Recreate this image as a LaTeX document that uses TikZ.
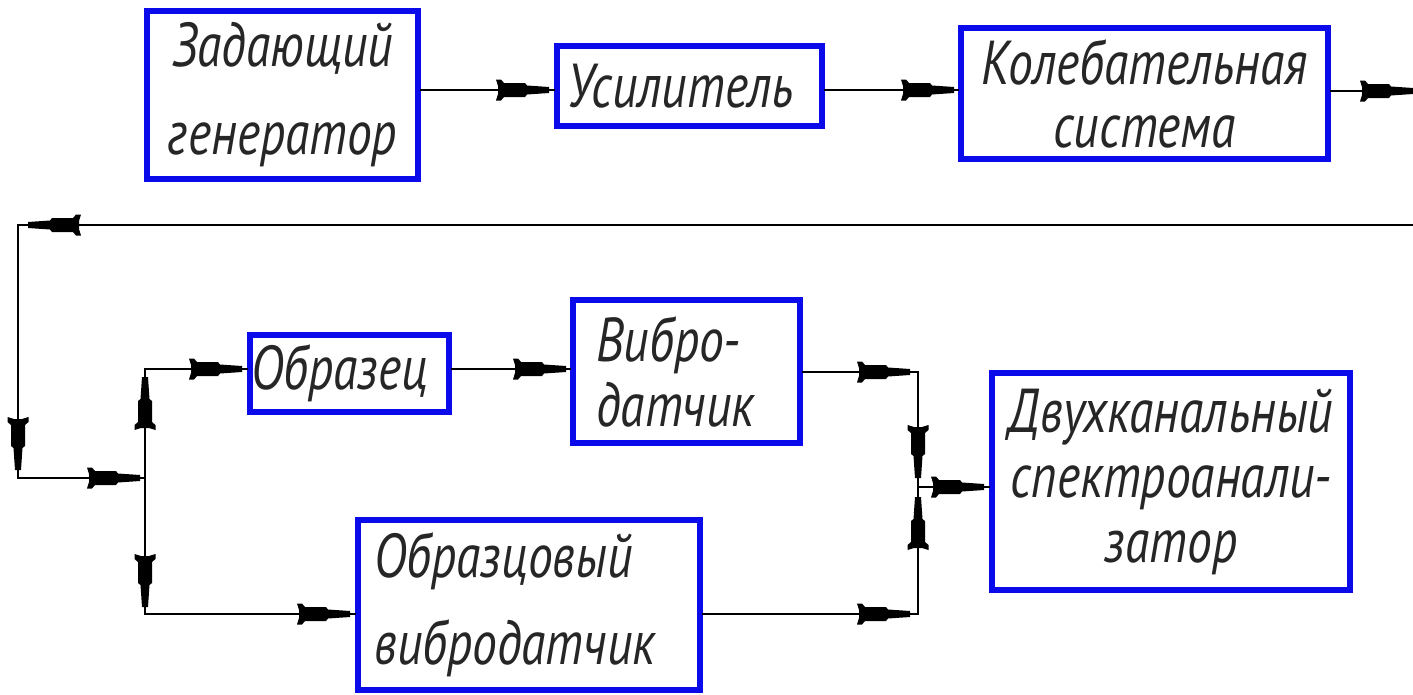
\documentclass[tikz,border=0pt]{standalone}
\usepackage{fontspec}
\newfontfamily\gost{PT Sans}[FakeStretch=0.8]
\usetikzlibrary{decorations.markings}
\definecolor{boxblue}{RGB}{10,10,235}
\tikzset{
 block/.style={draw=boxblue, line width=6pt, fill=white, inner sep=0pt, font=\gost\itshape\fontsize{62}{88}\selectfont, align=center, text=black!85},
 conn/.style={line width=2pt, black, line cap=rect},
 arr/.style={postaction={decorate}, decoration={markings, mark=at position #1 with {\fill[black] (0,-3) -- (0,3) -- (-22,4.5) -- (-24,7) -- (-45,7) -- (-48,10.5) -- (-53,10.5) -- (-51,4) -- (-51,-4) -- (-53,-10.5) -- (-48,-10.5) -- (-45,-7) -- (-24,-7) -- (-22,-4.5) -- cycle;}}},
}
\begin{document}
\begin{tikzpicture}[x=1pt,y=-1pt]
\useasboundingbox (0,0) rectangle (1413,694);
\clip (0,0) rectangle (1413,694);
\fill[white] (0,0) rectangle (1413,694);
\node[block, minimum width=271pt, minimum height=168pt] (gen) at (282.5,95) {Задающий\\генератор};
\node[block, minimum width=265pt, minimum height=80pt] (usil) at (689.5,86) {Усилитель\hspace*{18pt}};
\node[block, minimum width=367pt, minimum height=131pt, font=\gost\itshape\fontsize{62}{63}\selectfont] (kol) at (1144.5,93.5) {Колебательная\\система};
\node[block, minimum width=199pt, minimum height=77pt] (obr) at (349.5,373.5) {Образец\hspace*{20pt}};
\node[block, minimum width=227pt, minimum height=143pt, font=\gost\itshape\fontsize{62}{65}\selectfont, align=left] (vd) at (686.5,371.5) {Вибро-\hspace*{22pt}\\датчик\hspace*{22pt}};
\node[block, minimum width=342pt, minimum height=170pt, font=\gost\itshape\fontsize{62}{87}\selectfont, align=left] (ovd) at (529,605) {Образцовый\\вибродатчик\hspace*{28pt}};
\node[block, minimum width=358pt, minimum height=217pt, font=\gost\itshape\fontsize{62}{65}\selectfont] (spa) at (1171,481.5) {Двухканальный\\спектроанали-\\затор};
\coordinate (ya) at (0,90);
\coordinate (c1) at (1420,91);
\coordinate (c2) at (1420,225);
\coordinate (c3) at (18,225);
\coordinate (c4) at (18,478);
\coordinate (j1) at (145,478);
\coordinate (c5) at (145,369);
\coordinate (c6) at (145,614);
\coordinate (c7) at (918,372);
\coordinate (j2) at (918,487);
\coordinate (c8) at (918,614);
\draw[conn, arr=-5pt] (gen.east |- ya) -- (usil.west |- ya);
\draw[conn, arr=-4pt] (usil.east |- ya) -- (kol.west |- ya);
\draw[conn, arr=-7pt] (kol.east |- c1) -- (c1);
\draw[conn] (c1) -- (c2);
\draw[conn, arr=-10pt] (c2) -- (c3);
\draw[conn, arr=-8pt] (c3) -- (c4);
\draw[conn, arr=-5pt] (c4) -- (j1);
\draw[conn, arr=-8pt] (j1) -- (c5);
\draw[conn, arr=-5pt] (c5) -- (obr.west |- c5);
\draw[conn, arr=-7pt] (j1) -- (c6);
\draw[conn, arr=-5pt] (c6) -- (ovd.west |- c6);
\draw[conn, arr=-4pt] (obr.east |- c5) -- (vd.west |- c5);
\draw[conn, arr=-8pt] (vd.east |- c7) -- (c7);
\draw[conn, arr=-9pt] (c7) -- (j2);
\draw[conn, arr=-8pt] (ovd.east |- c8) -- (c8);
\draw[conn, arr=-10pt] (c8) -- (j2);
\draw[conn, arr=-5pt] (j2) -- (spa.west |- j2);
\end{tikzpicture}
\end{document}
